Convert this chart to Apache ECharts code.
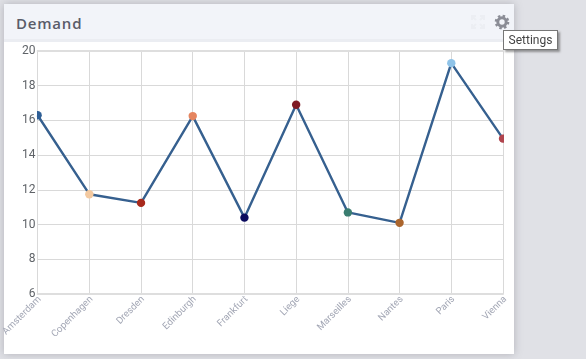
<!DOCTYPE html>
<html>
<head>
<meta charset="utf-8">
<script src="https://cdn.jsdelivr.net/npm/echarts@6/dist/echarts.min.js"></script>
<style>
html,body{margin:0;padding:0;width:586px;height:359px;overflow:hidden;background:#e0e1e6;}
#card{position:absolute;left:4px;top:4px;width:510px;height:350px;background:#fff;box-shadow:0 0 8px rgba(90,90,100,.35);}
#head{position:absolute;left:0;top:0;width:510px;height:35px;background:#f2f4f9;border-bottom:3px solid #ebedf2;}
#title{position:absolute;left:12px;top:9px;font:600 15px/20px "Open Sans",sans-serif;letter-spacing:.8px;color:#5a5c69;}
#main{position:absolute;left:0;top:0;width:586px;height:359px;}
#tip{position:absolute;left:503px;top:30px;width:53px;height:18px;background:#fff;border:1px solid #767676;box-shadow:2px 2px 2px rgba(90,90,90,.6);font:12px/18px Roboto,sans-serif;color:#444;text-align:center;}
#gear,#expand{position:absolute;top:13px;width:18px;height:18px;}
#gear{left:493px;}#expand{left:469px;}
</style>
</head>
<body>
<div id="card"><div id="head"><div id="title">Demand</div></div></div>
<div id="main"></div>
<svg id="expand" viewBox="0 0 18 18" fill="none" stroke="#eceef3" stroke-width="2"><path d="M3 7V3h4M11 3h4v4M15 11v4h-4M7 15H3v-4M4 4l3 3M14 4l-3 3M14 14l-3-3M4 14l3-3"/></svg>
<svg id="gear" viewBox="0 0 18 18"><circle cx="9" cy="9" r="4.2" fill="none" stroke="#8b8d96" stroke-width="3"/><circle cx="9" cy="9" r="6" fill="none" stroke="#8b8d96" stroke-width="2.6" stroke-dasharray="2.4 2.3"/></svg>
<div id="tip">Settings</div>
<script>
var categories = ['Amsterdam','Copenhagen','Dresden','Edinburgh','Frankfurt','Liege','Marseilles','Nantes','Paris','Vienna'];
var demand = [16.3,11.75,11.25,16.25,10.4,16.9,10.7,10.1,19.3,14.95];
var pointColors = ['#2f5f96','#f3c9a0','#a82a1c','#e5855f','#0b0b5e','#7f1b25','#3a7d70','#ab652c','#8fc3e8','#b0454e'];
var yTicks = {min:6,max:20,interval:2};

var chart = echarts.init(document.getElementById('main'),null,{renderer:'canvas',width:586,height:359});
chart.setOption({
  animation:false,
  backgroundColor:'transparent',
  grid:{left:37.6,right:83,top:51,bottom:65,containLabel:false,outerBoundsMode:'none'},
  tooltip:{show:false},
  xAxis:[{type:'category',data:categories,boundaryGap:false,
    axisTick:{show:false},
    axisLine:{show:true,lineStyle:{color:'#dedede',width:2}},
    axisLabel:{rotate:45,interval:0,margin:6,padding:[0,-3,0,0],fontFamily:'Roboto',fontSize:9.6,color:'#a3a7b5'},
    splitLine:{show:true,lineStyle:{color:'#d9d9d9',width:1}}},
    {type:'category',position:'top',data:categories,boundaryGap:false,
    axisTick:{show:false},axisLabel:{show:false},
    axisLine:{show:true,lineStyle:{color:'#dedede',width:2}},
    splitLine:{show:false}}],
  yAxis:{type:'value',min:yTicks.min,max:yTicks.max,interval:yTicks.interval,
    axisTick:{show:false},
    axisLine:{show:true,lineStyle:{color:'#d9d9d9',width:1}},
    axisLabel:{margin:2,fontFamily:'Roboto',fontSize:12,color:'#5f6368'},
    splitLine:{show:true,lineStyle:{color:'#d9d9d9',width:1}}},
  series:[
    {type:'line',data:demand,showSymbol:false,lineStyle:{color:'#36608f',width:2.4},itemStyle:{color:'#36608f'},z:2},
    {type:'custom',data:demand.map(function(v,i){return [i,v];}),clip:true,z:3,
     encode:{x:0,y:1},
     renderItem:function(params,api){
       var p=api.coord([api.value(0),api.value(1)]);
       return {type:'circle',shape:{cx:p[0],cy:p[1],r:4.2},style:{fill:pointColors[params.dataIndex]}};
     }}
  ]
});
</script>
</body>
</html>
